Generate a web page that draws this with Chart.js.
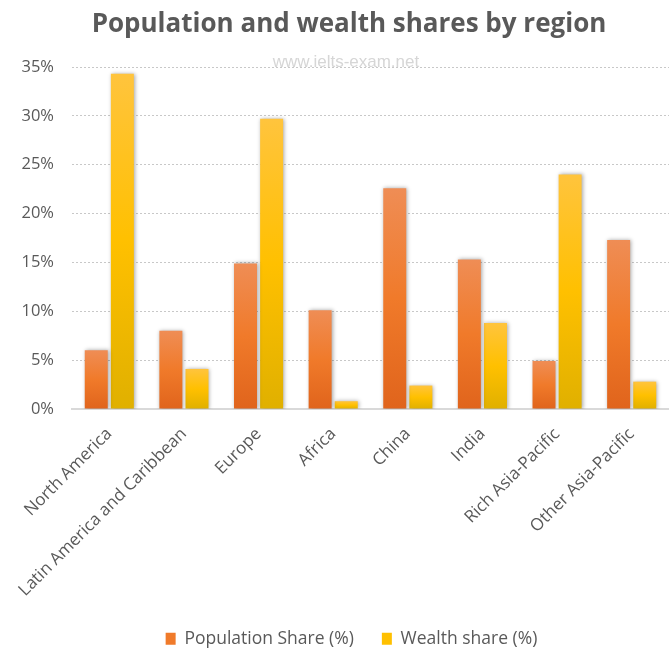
<!DOCTYPE html>
<html>
<head>
<meta charset="utf-8">
<script src="https://cdn.jsdelivr.net/npm/chart.js@4.4.1/dist/chart.umd.min.js"></script>
<style>
  html, body { margin: 0; padding: 0; background: #fff; }
  #wrap { width: 669px; height: 649px; }
</style>
</head>
<body>
<div id="wrap"><canvas id="regionChart" width="669" height="649"></canvas></div>
<script>
// Regions on the x axis
const regions = [
    'North America',
    'Latin America and Caribbean',
    'Europe',
    'Africa',
    'China',
    'India',
    'Rich Asia-Pacific',
    'Other Asia-Pacific'
];

// Share of world population (%)
const populationShare = [6.0, 8.0, 14.9, 10.1, 22.6, 15.3, 4.9, 17.3];

// Share of world wealth (%)
const wealthShare = [34.3, 4.1, 29.7, 0.8, 2.4, 8.8, 24.0, 2.8];

// Y axis ticks
const yTicks = [0, 5, 10, 15, 20, 25, 30, 35];

const chartTitle = 'Population and wealth shares by region';
const textColor = '#595959';

// Excel-like vertical gradient, computed per bar from its own top to the baseline
const barGradient = (stops) => (context) => {
    const chart = context.chart;
    const yScale = chart.scales.y;
    if (!chart.chartArea || !yScale || context.raw === undefined) {
        return stops[1];
    }
    const top = yScale.getPixelForValue(context.raw);
    const base = yScale.getPixelForValue(0);
    if (!isFinite(top) || !isFinite(base) || base - top < 1) {
        return stops[1];
    }
    const g = chart.ctx.createLinearGradient(0, top, 0, base);
    g.addColorStop(0, stops[0]);
    g.addColorStop(0.5, stops[1]);
    g.addColorStop(1, stops[2]);
    return g;
};

// soft shadow around the bars
const barShadow = {
    id: 'barShadow',
    beforeDatasetsDraw(chart) {
        const ctx = chart.ctx;
        ctx.save();
        ctx.shadowColor = 'rgba(0, 0, 0, 0.35)';
        ctx.shadowBlur = 4;
        ctx.shadowOffsetX = 1;
        ctx.shadowOffsetY = 0;
    },
    afterDatasetsDraw(chart) {
        chart.ctx.restore();
    }
};

// the original legend sits a little right of the canvas centre
const legendNudge = {
    id: 'legendNudge',
    afterLayout(chart) {
        const lg = chart.legend;
        if (lg) {
            lg.left += 17;
            lg.right += 17;
        }
    }
};

// title (also a bit right of centre) and the faint site watermark
const headerText = {
    id: 'headerText',
    afterDraw(chart) {
        const ctx = chart.ctx;
        ctx.save();
        ctx.textAlign = 'center';
        ctx.fillStyle = textColor;
        ctx.font = 'bold 26px "Open Sans", sans-serif';
        ctx.textBaseline = 'alphabetic';
        ctx.fillText(chartTitle, 349, 32);
        ctx.font = '17px "Liberation Sans Narrow", "Liberation Sans", sans-serif';
        ctx.fillStyle = '#d6d6d6';
        ctx.textBaseline = 'middle';
        ctx.fillText('www.ielts-exam.net', 346, 62);
        ctx.restore();
    }
};

const ctx = document.getElementById('regionChart').getContext('2d');

new Chart(ctx, {
    type: 'bar',
    data: {
        labels: regions,
        datasets: [
            {
                label: 'Population Share (%)',
                data: populationShare,
                backgroundColor: barGradient(['#ef8d55', '#f07a2a', '#e0641c']),
                categoryPercentage: 0.70,
                barPercentage: 0.88
            },
            {
                label: 'Wealth share (%)',
                data: wealthShare,
                backgroundColor: barGradient(['#ffc43d', '#ffc000', '#e0b000']),
                categoryPercentage: 0.70,
                barPercentage: 0.88
            }
        ]
    },
    options: {
        responsive: false,
        animation: false,
        layout: {
            padding: { top: 67, right: 0, bottom: 0, left: 0 }
        },
        plugins: {
            title: { display: false },
            legend: {
                position: 'bottom',
                maxHeight: 47,
                labels: {
                    color: textColor,
                    boxWidth: 10,
                    boxHeight: 12,
                    padding: 28,
                    font: { family: '"Open Sans", sans-serif', size: 17.5 },
                    generateLabels(chart) {
                        const cols = ['#f07a2a', '#ffc000'];
                        return chart.data.datasets.map((ds, i) => ({
                            text: ds.label,
                            fillStyle: cols[i],
                            strokeStyle: cols[i],
                            lineWidth: 0,
                            fontColor: textColor,
                            datasetIndex: i
                        }));
                    }
                }
            },
            tooltip: { enabled: false }
        },
        scales: {
            x: {
                grid: { display: false },
                border: { display: true, color: '#d9d9d9', width: 2 },
                ticks: {
                    color: textColor,
                    autoSkip: false,
                    minRotation: 45,
                    maxRotation: 45,
                    padding: 7,
                    font: { family: '"Open Sans", sans-serif', size: 17 }
                },
                afterFit(scale) {
                    scale.height = 193;
                }
            },
            y: {
                min: 0,
                max: 35,
                afterBuildTicks(scale) {
                    scale.ticks = yTicks.map(v => ({ value: v }));
                },
                grid: {
                    color: '#c8c8c8',
                    lineWidth: 1,
                    drawTicks: false
                },
                border: { display: false, dash: [2, 2] },
                ticks: {
                    color: textColor,
                    padding: 18,
                    font: { family: '"Open Sans", sans-serif', size: 16.5 },
                    callback: function(value) {
                        return value + '%';
                    }
                },
                afterFit(scale) {
                    scale.width = 72;
                }
            }
        }
    },
    plugins: [barShadow, legendNudge, headerText]
});
</script>
</body>
</html>
